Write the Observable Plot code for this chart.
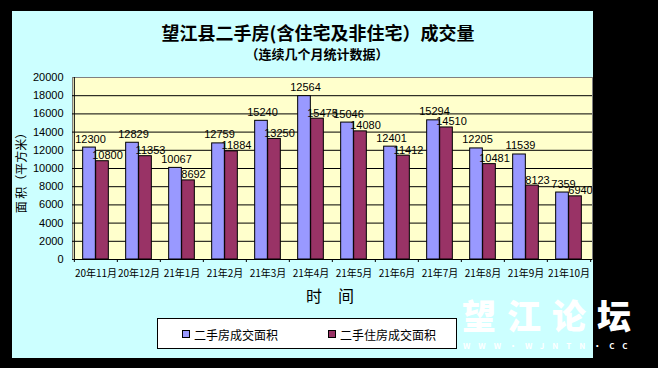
<!DOCTYPE html>
<html><head><meta charset="utf-8">
<script src="https://cdn.jsdelivr.net/npm/d3@7"></script>
<script src="https://cdn.jsdelivr.net/npm/@observablehq/plot@0.6"></script>
<style>
html,body{margin:0;padding:0;background:#000;}
#wrap{position:relative;width:658px;height:368px;overflow:hidden;background:#000;font-family:"Noto Sans CJK SC",sans-serif;}
#panel{position:absolute;left:12px;top:11px;width:581px;height:347px;background:#CCFFFF;}
.t{position:absolute;white-space:nowrap;color:#000;}
#chart{position:absolute;left:0;top:0;}
</style></head>
<body><div id="wrap">
<div id="panel"></div>
<div class="t" style="left:318px;top:32px;transform:translate(-50%,-50%);font-size:18px;font-weight:bold;">望江县二手房(含住宅及非住宅）成交量</div>
<div class="t" style="left:317px;top:53px;transform:translate(-50%,-50%);font-size:13px;font-weight:bold;">（连续几个月统计数据）</div>
<div class="t" style="left:20px;top:170px;transform:translate(-50%,-50%) rotate(-90deg);font-size:12px;">面 积（平方米）</div>
<div class="t" style="left:330px;top:295px;transform:translate(-50%,-50%);font-size:16px;">时　间</div>
<div id="chart"></div>
<div style="position:absolute;left:157px;top:318px;width:298px;height:29px;background:#fff;border:1px solid #000;"></div>
<div style="position:absolute;left:182px;top:330px;width:6px;height:6px;background:#9999FF;border:1px solid #000;"></div>
<div class="t" style="left:194px;top:334px;transform:translateY(-50%);font-size:12px;">二手房成交面积</div>
<div style="position:absolute;left:328px;top:330px;width:6px;height:6px;background:#993366;border:1px solid #000;"></div>
<div class="t" style="left:340px;top:334px;transform:translateY(-50%);font-size:12px;">二手住房成交面积</div>
<div class="t" style="left:462px;top:298px;line-height:1;font-size:34px;font-weight:900;color:#fff;letter-spacing:11px;">望江论坛</div>
<div class="t" style="left:463px;top:342px;line-height:1;font-size:8px;font-weight:bold;color:#fff;letter-spacing:8px;">WWW·WJNTN·CC</div>
</div>
<script>
const months = ["20年11月","20年12月","21年1月","21年2月","21年3月","21年4月","21年5月","21年6月","21年7月","21年8月","21年9月","21年10月"];
const totalBars = [12300,12829,10067,12759,15240,17950,15046,12401,15294,12205,11539,7359];
const totalLabels = [12300,12829,10067,12759,15240,12564,15046,12401,15294,12205,11539,7359];
const residBars = [10800,11353,8692,11884,13250,15475,14080,11412,14510,10481,8123,6940];
const residLabels = [10800,11353,8692,11884,13250,15475,14080,11412,14510,10481,8123,6940];
const yTicks = [0,2000,4000,6000,8000,10000,12000,14000,16000,18000,20000];

const W = 658, H = 368, mL = 72, mR = 66, mT = 77, mB = 109;
const bw = (W - mL - mR) / months.length;
const plotH = H - mT - mB;
const barW = 13;
const gap = (bw - 2 * barW) / 2;
const tickLen = 3 * 20000 / plotH;

const total = months.map((m, i) => ({month: m, v: totalBars[i], label: totalLabels[i]}));
const resid = months.map((m, i) => ({month: m, v: residBars[i], label: residLabels[i]}));

const chart = Plot.plot({
  width: W, height: H,
  marginLeft: mL, marginRight: mR, marginTop: mT, marginBottom: mB,
  style: {background: "transparent", fontFamily: "Liberation Sans, Arial, sans-serif", color: "#000", overflow: "visible"},
  x: {type: "band", domain: months, padding: 0, label: null},
  y: {domain: [0, 20000], label: null},
  marks: [
    Plot.frame({fill: "#FFFFCC", stroke: "#808080"}),
    Plot.ruleY(yTicks.filter(d => d > 0 && d < 20000), {stroke: "#000", strokeWidth: 1}),
    Plot.barY(total, {x: "month", y: "v", fill: "#9999FF", stroke: "#000", strokeWidth: 1, insetLeft: gap, insetRight: gap + barW}),
    Plot.barY(resid, {x: "month", y: "v", fill: "#993366", stroke: "#000", strokeWidth: 1, insetLeft: gap + barW, insetRight: gap}),
    Plot.ruleY([0], {stroke: "#000"}),
    Plot.ruleX(months, {x: d => d, dx: -bw / 2, y1: 0, y2: 20000, stroke: "#000", filter: (d, i) => i === 0}),
    Plot.ruleX(months, {x: d => d, dx: -bw / 2, y1: 0, y2: -tickLen, stroke: "#000", clip: false}),
    Plot.ruleX([months[months.length - 1]], {x: d => d, dx: bw / 2, y1: 0, y2: -tickLen, stroke: "#000"}),
    Plot.text(total, {x: "month", y: "v", text: d => String(d.label), dx: -bw / 2 + gap + barW / 2 + 1, dy: -5, lineAnchor: "bottom", fontSize: 11, fill: "#000"}),
    Plot.text(resid, {x: "month", y: "v", text: d => String(d.label), dx: -bw / 2 + gap + barW * 1.5 + 5, dy: -2, lineAnchor: "bottom", fontSize: 11, fill: "#000"}),
    Plot.axisY({ticks: yTicks, tickSize: 0, tickPadding: 9, fontSize: 11, tickFormat: d3.format("d"), label: null}),
    Plot.axisX({tickSize: 0, tickPadding: 10, fontSize: 10, label: null, fontFamily: "Noto Sans CJK SC, sans-serif"})
  ]
});
document.getElementById("chart").appendChild(chart);
</script>
</body></html>
